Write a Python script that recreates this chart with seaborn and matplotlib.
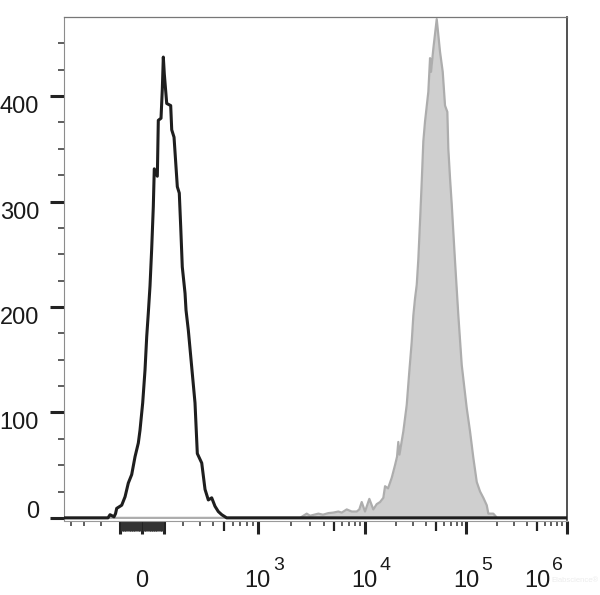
import numpy as np
import matplotlib
matplotlib.use("Agg")
import matplotlib.pyplot as plt
import seaborn as sns

# histogram data: display channel (0-1024 over the biexponential axis) vs. event count
black_ch = [0, 89.6, 93.7, 97.7, 101.8, 104.9, 107.3, 117.5, 124.3, 130.9, 137.8,
            144.6, 151.3, 154.7, 160.2, 164.9, 168.4, 171.6, 175.1, 178.5, 181.8,
            183.8, 190.0, 192.0, 197.5, 200.1, 202.2, 204.2, 209.1, 217.2, 219.3,
            224.0, 228.0, 230.7, 234.7, 237.6, 240.8, 246.4, 248.4, 253.1, 260.0,
            266.7, 271.4, 280.4, 287.1, 293.8, 300.7, 307.4, 314.1, 321.1, 331.2, 1024]
black_counts = [0, 0, 3, 2, 1, 4, 9, 12, 20, 33, 41,
                58, 71, 83, 109, 140, 172, 194, 220, 255, 295,
                331, 324, 377, 379, 406, 437, 421, 393, 391, 368,
                361, 333, 314, 308, 276, 238, 213, 197, 178, 143,
                109, 61, 52, 27, 17, 19, 11, 6, 3, 0, 0]

gray_ch = [0, 480.5, 490.7, 494.1, 500.9, 517.8, 527.3, 538.1, 548.3, 558.5, 565.4,
           575.6, 585.8, 595.9, 601.2, 606.1, 612.8, 621.6, 629.7, 636.6, 643.4,
           650.1, 653.6, 659.7, 667.2, 673.9, 678.0, 680.6, 683.0, 690.8, 697.7,
           703.0, 707.9, 711.2, 714.6, 718.1, 721.3, 724.8, 728.3, 731.5, 735.0,
           741.7, 745.2, 747.2, 751.9, 758.8, 765.5, 771.0, 775.7, 780.4, 782.4,
           785.9, 789.4, 792.6, 796.1, 802.8, 809.7, 819.9, 826.6, 833.3, 840.3,
           847.0, 853.7, 860.6, 863.9, 874.0, 881.6, 1024]
gray_counts = [0, 0, 3, 4, 2, 4, 3, 4.5, 5, 6, 5,
               8, 6, 6, 8, 15, 6, 18, 8, 13, 15,
               19, 30, 28, 38, 50, 58, 72, 60, 82, 107,
               139, 167, 192, 208, 221, 245, 281, 319, 357, 376,
               404, 436, 423, 445, 473, 442, 423, 391, 385, 350,
               322, 297, 271, 243, 192, 145, 104, 82, 57, 34,
               25, 19, 12, 4, 4, 0, 0]

y_major = [0, 100, 200, 300, 400]
y_minor = [25, 50, 75, 125, 150, 175, 225, 250, 275, 325, 350, 375, 425, 450]

x_major_vals = [-100, 0, 100, 1e3, 1e4, 1e5, 1e6]
x_medium_vals = [500, 5e3, 5e4, 5e5]
x_fine_vals = [-v for v in range(10, 100, 10)] + list(range(10, 100, 10))
x_minor_vals = ([-400, -300, -200, 200, 300, 400, 600, 700, 800, 900]
                + [m * 10 ** e for e in (3, 4, 5) for m in (2, 3, 4, 6, 7, 8, 9)])

# logicle (biexponential) display parameters
T, M, W, A = 1e6, 4.725, 0.5, 0.275
N_CH = 1024


def logicle_params():
    w = W / (M + A)
    x2 = A / (M + A)
    x1 = x2 + w
    x0 = x2 + 2 * w
    b = (M + A) * np.log(10)
    lo, hi = 1e-6, b
    for _ in range(200):
        d = 0.5 * (lo + hi)
        if 2 * (np.log(d) - np.log(b)) + w * (b + d) > 0:
            hi = d
        else:
            lo = d
    ca = np.exp(x0 * (b + d))
    mfa = np.exp(b * x1) - ca * np.exp(-d * x1)
    a = T / (np.exp(b) - mfa - ca * np.exp(-d))
    return a, b, ca * a, d, -mfa * a, x1


def logicle_S(y):
    a, b, c, d, f, x1 = logicle_params()
    y = np.asarray(y, dtype=float)
    yy = np.where(y >= x1, y, 2 * x1 - y)
    s = a * np.exp(b * yy) - c * np.exp(-d * yy) + f
    return np.where(y >= x1, s, -s)


def to_channel(vals):
    grid = np.linspace(0, 1, 40001)
    return N_CH * np.interp(vals, logicle_S(grid), grid)


sns.set_style("white")
plt.rcParams['font.family'] = ['Liberation Sans', 'DejaVu Sans']

fig = plt.figure(figsize=(6, 5.95), dpi=100)
ax = fig.add_axes([64 / 600, 1 - 520.5 / 595, 503 / 600, 503.5 / 595])

ax.fill_between(gray_ch, gray_counts, 0, color='#cfcfcf', linewidth=0, zorder=1)
sns.lineplot(x=gray_ch, y=gray_counts, ax=ax, color='#adadad', linewidth=1.6,
             estimator=None, sort=False, zorder=2)
sns.lineplot(x=black_ch, y=black_counts, ax=ax, color='#1e1e1e', linewidth=2.2,
             estimator=None, sort=False, zorder=3)

ax.set_xlim(0, N_CH)
ax.set_ylim(-2.5, 475)
ax.set_xlabel("")
ax.set_ylabel("")

# y ticks
ax.set_yticks(y_major)
ax.set_yticks(y_minor, minor=True)
ax.tick_params(axis='y', which='major', direction='out', length=10, width=2.2,
               color='#222222', left=True, labelleft=False)
ax.tick_params(axis='y', which='minor', direction='out', length=4.3, width=1.1,
               color='#333333', left=True)

# x ticks: major + medium on the major locator, minor + fine on the minor one
big = sorted([(v, 'major') for v in x_major_vals] + [(v, 'medium') for v in x_medium_vals])
small = sorted([(v, 'minor') for v in x_minor_vals] + [(v, 'fine') for v in x_fine_vals])
ax.set_xticks(to_channel([v for v, _ in big]))
ax.set_xticks(to_channel([v for v, _ in small]), minor=True)
ax.tick_params(axis='x', which='major', direction='out', length=9.4, width=2.2,
               color='#222222', bottom=True, labelbottom=False)
ax.tick_params(axis='x', which='minor', direction='out', length=3.6, width=1.1,
               color='#333333', bottom=True)
for tick, (v, kind) in zip(ax.xaxis.get_major_ticks(), big):
    if kind == 'medium':
        tick.tick1line.set_markersize(7.2)
        tick.tick1line.set_markeredgewidth(1.6)
for tick, (v, kind) in zip(ax.xaxis.get_minor_ticks(), small):
    if kind == 'fine':
        tick.tick1line.set_markersize(7.0)
        tick.tick1line.set_markeredgewidth(2.2)
        tick.tick1line.set_color('#1a1a1a')

for side, col, lw in [('left', '#8c8c8c', 0.8), ('top', '#777777', 0.9),
                      ('right', '#333333', 1.2), ('bottom', '#9a9a9a', 0.8)]:
    ax.spines[side].set_color(col)
    ax.spines[side].set_linewidth(lw)

# y tick labels
for v in y_major:
    dy = 0 if v == 0 else -17
    ax.annotate(str(v), xy=(0, v), xycoords=('axes fraction', 'data'),
                xytext=(-25, dy), textcoords='offset pixels',
                ha='right', va='baseline', fontsize=17, color='#1a1a1a')

# x tick labels: 0 and powers of ten
ax.annotate('0', xy=(to_channel(0), 0), xycoords=('data', 'axes fraction'),
            xytext=(0, -66.5), textcoords='offset pixels',
            ha='center', va='baseline', fontsize=17, color='#1a1a1a')
for e in (3, 4, 5, 6):
    dx = -17 if e == 6 else 13
    xpos = float(to_channel(10.0 ** e))
    ax.annotate('10', xy=(xpos, 0), xycoords=('data', 'axes fraction'),
                xytext=(dx, -66.5), textcoords='offset pixels',
                ha='right', va='baseline', fontsize=17, color='#1a1a1a')
    ax.annotate(str(e), xy=(xpos, 0), xycoords=('data', 'axes fraction'),
                xytext=(dx + 2, -49.5), textcoords='offset pixels',
                ha='left', va='baseline', fontsize=14, color='#1a1a1a')

fig.text(0.998, 0.022, "Elabscience\u00ae", ha='right', va='baseline',
         fontsize=5.5, color='#ececec')

fig.savefig("out.png", dpi=100)
